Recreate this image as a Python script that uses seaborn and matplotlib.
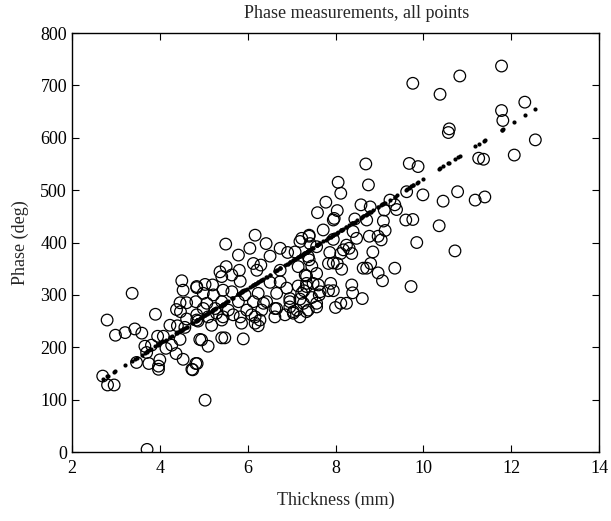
import numpy as np
import pandas as pd
import seaborn as sns
import matplotlib.pyplot as plt

thickness = [
    4.50, 4.53, 4.84, 3.37, 4.46, 4.61, 4.38, 4.47, 3.90, 2.80,
    4.61, 4.23, 4.40, 4.57, 3.43, 3.21, 2.99, 3.59, 3.95, 4.08,
    4.46, 4.91, 3.66, 3.81, 4.27, 4.14, 3.70, 4.37, 3.47, 3.75,
    4.00, 3.97, 3.97, 4.53, 4.73, 4.82, 2.70, 2.81, 2.96, 3.71,
    4.87,
    6.17, 5.50, 6.05, 6.42, 7.40, 7.19, 6.74, 5.79, 6.51, 6.91,
    7.08, 7.57, 5.51, 5.81, 6.13, 6.30, 6.21, 5.37, 5.41, 5.64,
    6.74, 7.15, 7.40, 7.31, 7.57, 5.83, 4.84, 5.03, 5.20, 6.51,
    6.74, 6.89, 7.15, 7.34, 7.61, 4.99, 5.44, 5.22, 5.64, 5.94,
    6.24, 6.66, 6.96, 7.23, 7.46, 4.82, 5.07, 5.41, 5.79, 6.13,
    6.43, 6.66, 6.96, 7.27, 7.57, 5.26, 5.56, 5.98, 6.32, 7.04,
    7.38, 4.84, 5.10, 5.44, 5.83, 6.17, 6.62, 6.85, 7.19,
    4.84, 5.18, 5.41, 5.67, 5.86, 6.09, 6.17, 6.28, 6.24, 6.36,
    6.62, 7.04, 7.12, 7.34, 7.57, 6.96, 4.95, 5.10, 5.41, 5.48,
    5.90, 4.85, 4.75, 5.03, 5.29, 4.99,
    8.69, 9.68, 9.88, 8.06, 8.75, 8.12, 9.99, 7.78, 8.58, 8.79,
    9.24, 9.35, 9.39, 9.11, 7.59, 8.04, 7.95, 7.97, 8.44, 8.71,
    9.60, 9.76, 9.09, 9.13, 7.72, 7.40, 7.23, 7.42, 8.40, 7.95,
    8.48, 8.77, 8.97, 9.04, 8.25, 8.31, 8.18, 7.87, 8.12, 8.37,
    8.85, 9.85, 7.38,
    7.46, 7.84, 7.95, 8.04, 8.14, 8.63, 8.71, 8.80, 8.97, 9.35,
    9.07, 9.72, 7.34, 7.34, 7.49, 7.89, 7.28, 7.65, 7.84, 7.95,
    7.19, 7.63, 8.37, 8.39, 8.61, 8.00, 8.12, 8.25,
    9.76, 10.83, 11.78, 10.38, 11.78, 12.31, 11.81, 10.59, 10.57, 12.55,
    12.07, 11.26, 11.37, 9.62, 10.45, 10.78, 11.18, 11.40, 10.36, 10.72,
]
phase = [
    327, 309, 314, 303, 285, 285, 272, 268, 263, 252,
    254, 242, 241, 238, 235, 228, 223, 227, 221, 221,
    215, 215, 202, 204, 204, 198, 190, 188, 171, 169,
    176, 164, 158, 177, 158, 169, 145, 128, 128, 5,
    250,
    414, 397, 389, 398, 412, 402, 389, 376, 374, 381,
    382, 392, 354, 347, 360, 357, 347, 344, 335, 338,
    347, 354, 367, 338, 341, 326, 316, 320, 319, 324,
    325, 313, 317, 316, 319, 303, 309, 300, 306, 300,
    303, 303, 293, 303, 295, 287, 284, 287, 287, 287,
    287, 274, 277, 284, 284, 274, 271, 271, 271, 268,
    271, 262, 258, 258, 258, 258, 258, 262, 258,
    252, 242, 252, 262, 246, 262, 246, 252, 241, 284,
    274, 265, 271, 268, 277, 287, 214, 202, 218, 218,
    216, 169, 157, 99, 265, 274,
    550, 551, 545, 515, 510, 494, 491, 477, 472, 468,
    481, 472, 463, 462, 457, 461, 443, 446, 445, 443,
    443, 444, 441, 423, 424, 414, 408, 398, 421, 406,
    408, 412, 412, 405, 395, 389, 386, 381, 379, 379,
    382, 400, 373,
    355, 360, 361, 360, 349, 351, 351, 360, 342, 351,
    327, 316, 336, 322, 322, 322, 308, 306, 308, 308,
    292, 300, 319, 304, 293, 276, 284, 284,
    704, 718, 737, 683, 652, 668, 633, 617, 610, 596,
    567, 561, 559, 497, 479, 497, 481, 487, 432, 384,
]

# straight-line fit as printed on the figure (deg per mm, deg)
fit_slope = 52.4
fit_intercept = -2.2

df = pd.DataFrame({"thickness": thickness, "phase": phase})

# fitted value at every measured thickness, drawn as small dots
fit = pd.DataFrame({"thickness": df["thickness"],
                    "phase": fit_intercept + fit_slope * df["thickness"]})

sns.set_style("ticks")
plt.rcParams["font.family"] = ["Liberation Serif", "DejaVu Serif"]

fig = plt.figure(figsize=(6.11, 5.21), dpi=100)
ax = fig.add_axes([0.1178, 0.1324, 0.8626, 0.8042])

sns.scatterplot(data=df, x="thickness", y="phase", ax=ax, s=70,
                facecolors="none", edgecolor="black", linewidth=0.9,
                marker="o")
sns.scatterplot(data=fit, x="thickness", y="phase", ax=ax, s=9,
                color="black", edgecolor="black", linewidth=0)

ax.set_xlim(2, 14)
ax.set_ylim(0, 800)
ax.set_xticks(range(2, 15, 2))
ax.set_yticks(range(0, 801, 100))
ax.tick_params(direction="in", top=True, right=True, length=5,
               width=0.8, labelsize=13, colors="black")
ax.tick_params(axis="x", pad=6)
for sp in ax.spines.values():
    sp.set_visible(True)
    sp.set_linewidth(1.0)
    sp.set_color("black")

ax.set_xlabel("Thickness (mm)", fontsize=13, labelpad=10)
ax.set_ylabel("Phase (deg)", fontsize=13, labelpad=8)
fig.text(357 / 611, 1 - 13 / 521, "Phase measurements, all points",
         ha="center", va="center", fontsize=13)

fig.savefig("out.png", dpi=100)
